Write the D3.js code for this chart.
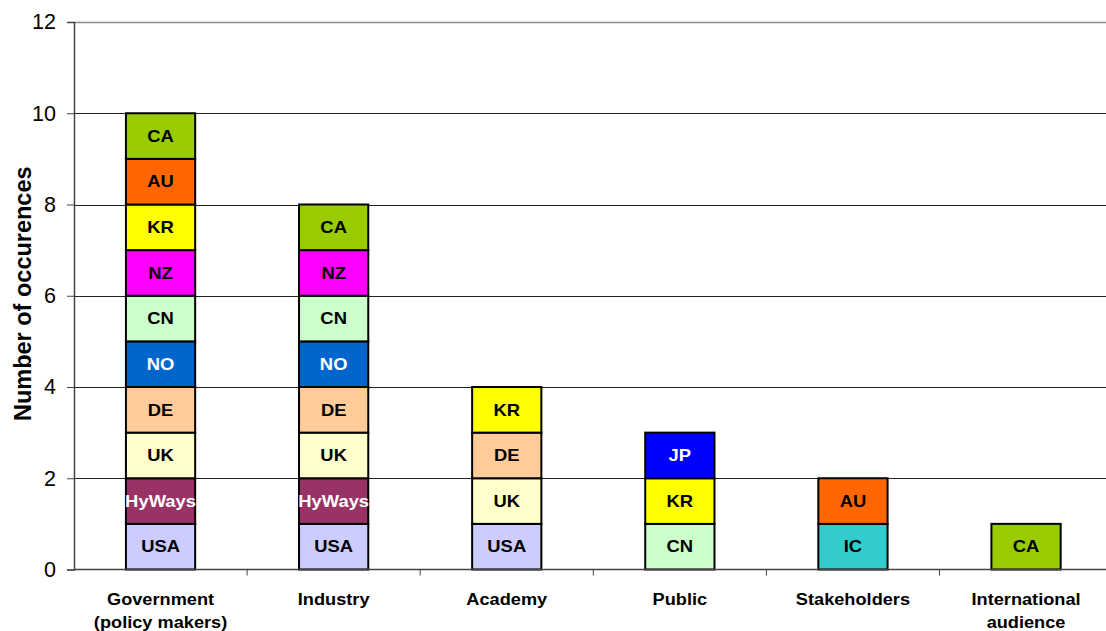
<!DOCTYPE html>
<html>
<head>
<meta charset="utf-8">
<script src="https://cdn.jsdelivr.net/npm/d3@7"></script>
<style>
  html, body { margin: 0; padding: 0; background: #fff; }
  svg { display: block; font-family: "Liberation Sans", Arial, sans-serif; }
</style>
</head>
<body>
<svg id="chart" width="1106" height="631"></svg>
<script>
// Audience groups along the x axis (line breaks with "\n")
const categories = [
  "Government\n(policy makers)",
  "Industry",
  "Academy",
  "Public",
  "Stakeholders",
  "International\naudience"
];

// Stack contents per audience group, bottom to top; each entry counts one occurrence
const govStack      = ["USA", "HyWays", "UK", "DE", "NO", "CN", "NZ", "KR", "AU", "CA"];
const industryStack = ["USA", "HyWays", "UK", "DE", "NO", "CN", "NZ", "CA"];
const academyStack  = ["USA", "UK", "DE", "KR"];
const publicStack   = ["CN", "KR", "JP"];
const stakeStack    = ["IC", "AU"];
const intlStack     = ["CA"];
const stacks = [govStack, industryStack, academyStack, publicStack, stakeStack, intlStack];

const yTicks = [0, 2, 4, 6, 8, 10, 12];

// Fill per source
const sourceColors = {
  USA: "#CCCCFF", HyWays: "#993366", UK: "#FFFFCC", DE: "#FFCC99",
  NO: "#0066CC", CN: "#CCFFCC", NZ: "#FF00FF", KR: "#FFFF00",
  AU: "#FF6600", CA: "#99CC00", JP: "#0000FF", IC: "#33CCCC"
};
const whiteText = new Set(["HyWays", "NO", "JP"]);

const svg = d3.select("#chart");
const W = 1106, H = 631;
const plotLeft = 74, plotRight = 1112.6, plotTop = 22, plotBottom = 569.5;

const x = d3.scaleBand()
  .domain(categories)
  .range([plotLeft, plotRight])
  .paddingInner(0.6)
  .paddingOuter(0.3);

const y = d3.scaleLinear()
  .domain([0, 12])
  .range([plotBottom, plotTop]);

// Horizontal gridlines
svg.append("g")
  .selectAll("line")
  .data(yTicks.filter(d => d > 0))
  .join("line")
  .attr("x1", plotLeft)
  .attr("x2", W)
  .attr("y1", d => Math.round(y(d)) + 0.5)
  .attr("y2", d => Math.round(y(d)) + 0.5)
  .attr("stroke", d => d === 12 ? "#8c8c8c" : "#222")
  .attr("stroke-width", d => d === 12 ? 1.6 : 1);

// Stacked segments
const segs = [];
stacks.forEach((stack, i) => {
  stack.forEach((src, j) => {
    segs.push({ cat: categories[i], src, y0: j, y1: j + 1 });
  });
});

const bars = svg.append("g");
bars.selectAll("rect")
  .data(segs)
  .join("rect")
  .attr("x", d => x(d.cat))
  .attr("width", x.bandwidth())
  .attr("y", d => y(d.y1))
  .attr("height", d => y(d.y0) - y(d.y1))
  .attr("fill", d => sourceColors[d.src])
  .attr("stroke", "#000")
  .attr("stroke-width", 2);

// Segment labels, slightly widened like the original typeface rendering
bars.selectAll("text")
  .data(segs)
  .join("text")
  .attr("transform", d =>
    `translate(${x(d.cat) + x.bandwidth() / 2},${(y(d.y0) + y(d.y1)) / 2 + 5.7}) scale(1.15,1)`)
  .attr("text-anchor", "middle")
  .attr("font-size", 16)
  .attr("font-weight", "bold")
  .attr("fill", d => whiteText.has(d.src) ? "#fff" : "#000")
  .text(d => d.src);

// Y axis
const yAxis = svg.append("g")
  .attr("transform", `translate(${plotLeft},0)`)
  .call(d3.axisLeft(y).tickValues(yTicks).tickSize(7).tickPadding(11).tickFormat(d3.format("d")));
yAxis.select(".domain").attr("stroke", "#444").attr("stroke-width", 1.5);
yAxis.selectAll(".tick line").attr("stroke", "#444");
yAxis.selectAll(".tick text")
  .attr("font-size", 21.5)
  .attr("font-family", "Liberation Sans, Arial, sans-serif")
  .attr("fill", "#000");

// X axis line and separators between groups
const baseY = y(0);
svg.append("line")
  .attr("x1", plotLeft).attr("x2", W)
  .attr("y1", baseY).attr("y2", baseY)
  .attr("stroke", "#444").attr("stroke-width", 1.5);

const step = x.step();
const seps = categories.map((c, i) => plotLeft + (i + 1) * step).filter(v => v < W);
svg.append("g").selectAll("line")
  .data(seps)
  .join("line")
  .attr("x1", d => d).attr("x2", d => d)
  .attr("y1", baseY).attr("y2", baseY + 6)
  .attr("stroke", "#444");

// Category labels
const catLabels = svg.append("g")
  .selectAll("text")
  .data(categories)
  .join("text")
  .attr("transform", d => `translate(${x(d) + x.bandwidth() / 2},605) scale(1.07,1)`)
  .attr("text-anchor", "middle")
  .attr("font-size", 17)
  .attr("font-weight", "bold");
catLabels.each(function(d) {
  const t = d3.select(this);
  d.split("\n").forEach((line, k) => {
    t.append("tspan")
      .attr("x", 0)
      .attr("dy", k === 0 ? 0 : 23)
      .text(line);
  });
});

// Y axis title
svg.append("text")
  .attr("transform", `translate(31,${(y(0) + y(12)) / 2 - 2}) rotate(-90)`)
  .attr("text-anchor", "middle")
  .attr("font-size", 23.5)
  .attr("font-weight", "bold")
  .text("Number of occurences");
</script>
</body>
</html>
